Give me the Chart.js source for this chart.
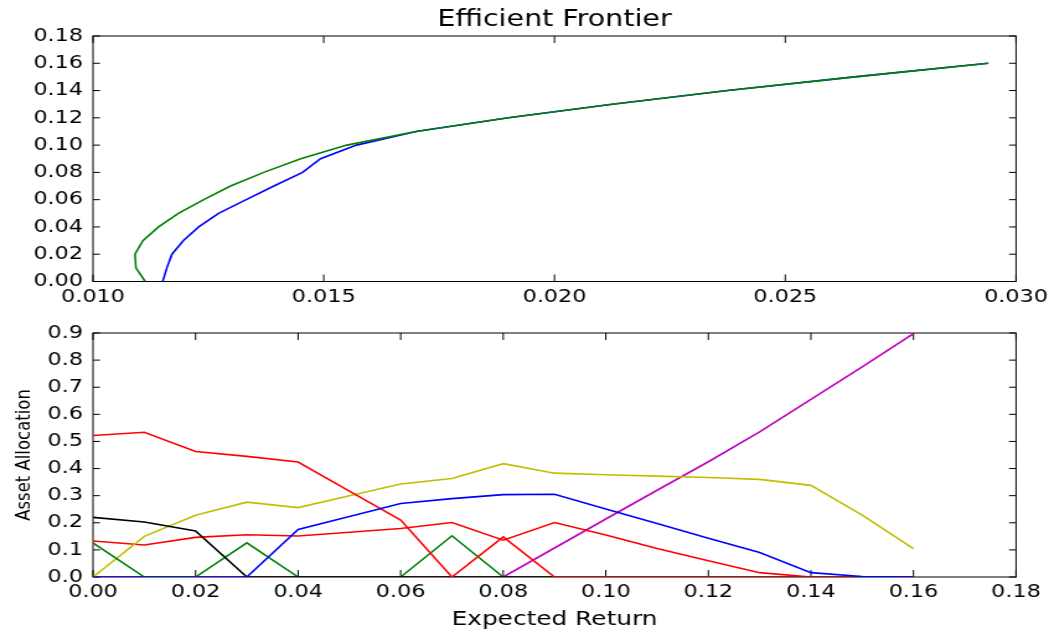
<!DOCTYPE html>
<html>
<head>
<meta charset="utf-8">
<title>Efficient Frontier</title>
<script src="https://cdn.jsdelivr.net/npm/chart.js@4/dist/chart.umd.min.js"></script>
<style>
    html, body { margin: 0; padding: 0; background: #fff; }
    #wrap { position: relative; width: 1049px; height: 634px; overflow: hidden; }
    canvas { position: absolute; left: 0; }
    #frontier { top: 0; }
    #alloc { top: 317px; }
</style>
</head>
<body>
<div id="wrap">
    <!-- drawn narrow and stretched sideways, like the original figure -->
    <canvas id="frontier" width="846" height="317" style="width:1049px;height:317px"></canvas>
    <canvas id="alloc" width="846" height="317" style="width:1049px;height:317px"></canvas>
</div>
<script>
// target returns, shared by both panels
const targetReturns = [0.00, 0.01, 0.02, 0.03, 0.04, 0.05, 0.06, 0.07, 0.08, 0.09, 0.10, 0.11, 0.12, 0.13, 0.14, 0.15, 0.16];

// efficient frontier: risk at each target return
const riskBlue  = [0.01151, 0.01160, 0.01171, 0.01196, 0.01229, 0.01272, 0.01332, 0.01392, 0.01454, 0.01493, 0.01571, 0.01700, 0.01900, 0.02125, 0.02375, 0.02650, 0.02940];
const riskGreen = [0.01113, 0.01093, 0.01091, 0.01108, 0.01142, 0.01185, 0.01240, 0.01298, 0.01370, 0.01450, 0.01550, 0.01700, 0.01900, 0.02125, 0.02375, 0.02650, 0.02940];

// asset weights at each target return
const weightRedA    = [0.522, 0.534, 0.463, 0.445, 0.424, 0.317, 0.210, 0.000, 0.148, 0.000, 0.000, 0.000, 0.000, 0.000, 0.000, 0.000, 0.000];
const weightRedB    = [0.133, 0.118, 0.146, 0.156, 0.151, 0.165, 0.179, 0.201, 0.136, 0.201, 0.155, 0.105, 0.060, 0.016, 0.000, 0.000, 0.000];
const weightBlack   = [0.220, 0.203, 0.170, 0.000, 0.000, 0.000, 0.000, 0.000, 0.000, 0.000, 0.000, 0.000, 0.000, 0.000, 0.000, 0.000, 0.000];
const weightYellow  = [0.000, 0.150, 0.228, 0.276, 0.256, 0.300, 0.343, 0.363, 0.418, 0.383, 0.377, 0.372, 0.367, 0.360, 0.338, 0.228, 0.105];
const weightBlue    = [0.000, 0.000, 0.000, 0.000, 0.175, 0.223, 0.271, 0.289, 0.304, 0.305, 0.251, 0.197, 0.143, 0.090, 0.016, 0.002, 0.000];
const weightGreen   = [0.126, 0.000, 0.000, 0.126, 0.000, 0.000, 0.000, 0.152, 0.000, 0.000, 0.000, 0.000, 0.000, 0.000, 0.000, 0.000, 0.000];
const weightMagenta = [0.000, 0.000, 0.000, 0.000, 0.000, 0.000, 0.000, 0.000, 0.000, 0.107, 0.214, 0.320, 0.425, 0.535, 0.655, 0.775, 0.898];

// tick labels
const frontierXTicks = [0.010, 0.015, 0.020, 0.025, 0.030];
const frontierYTicks = [0.00, 0.02, 0.04, 0.06, 0.08, 0.10, 0.12, 0.14, 0.16, 0.18];
const allocXTicks = [0.00, 0.02, 0.04, 0.06, 0.08, 0.10, 0.12, 0.14, 0.16, 0.18];
const allocYTicks = [0.0, 0.1, 0.2, 0.3, 0.4, 0.5, 0.6, 0.7, 0.8, 0.9];

const FONT = 'DejaVu Sans';
const colors = {
    b: '#0000ff', g: '#008000', r: '#ff0000',
    m: '#bf00bf', y: '#bfbf00', k: '#000000'
};

// box with inward ticks on all four sides (matplotlib classic look)
const frameTicks = {
    id: 'frameTicks',
    beforeDatasetsDraw(chart) {
        const {ctx, chartArea: a, scales} = chart;
        ctx.save();
        ctx.strokeStyle = '#000';
        ctx.lineWidth = 1;
        ctx.strokeRect(a.left, a.top, a.right - a.left, a.bottom - a.top);
        ctx.beginPath();
        scales.x.ticks.forEach(t => {
            const px = scales.x.getPixelForValue(t.value);
            ctx.moveTo(px, a.bottom); ctx.lineTo(px, a.bottom - 7);
            ctx.moveTo(px, a.top); ctx.lineTo(px, a.top + 7);
        });
        scales.y.ticks.forEach(t => {
            const py = scales.y.getPixelForValue(t.value);
            ctx.moveTo(a.left, py); ctx.lineTo(a.left + 5.6, py);
            ctx.moveTo(a.right, py); ctx.lineTo(a.right - 5.6, py);
        });
        ctx.stroke();
        ctx.restore();
    }
};

function fixSize(size, vertical) {
    return scale => {
        if (vertical) scale.width = size; else scale.height = size;
        scale.paddingLeft = scale.paddingRight = scale.paddingTop = scale.paddingBottom = 0;
    };
}

function setTicks(list) {
    return scale => { scale.ticks = list.map(v => ({value: v})); };
}

function valueAxis(min, max, list, decimals, size, vertical, padding) {
    return {
        type: 'linear',
        position: vertical ? 'left' : 'bottom',
        min: min,
        max: max,
        grid: { display: false, drawTicks: false },
        border: { display: false },
        ticks: {
            color: '#000',
            padding: padding,
            autoSkip: false,
            maxRotation: 0,
            font: { family: FONT, size: 18 },
            callback: v => v.toFixed(decimals)
        },
        afterBuildTicks: setTicks(list),
        afterFit: fixSize(size, vertical)
    };
}

function line(xs, ys, color) {
    return {
        data: xs.map((x, i) => ({x: x, y: ys[i]})),
        borderColor: color,
        borderWidth: 1.6,
        pointRadius: 0,
        showLine: true,
        fill: false,
        tension: 0
    };
}

const common = {
    responsive: false,
    animation: false,
    events: [],
    plugins: { legend: { display: false }, tooltip: { enabled: false } }
};

// top: efficient frontier
new Chart(document.getElementById('frontier'), {
    type: 'scatter',
    data: {
        datasets: [
            line(riskGreen, targetReturns, colors.g),
            line(riskBlue, targetReturns, colors.b)
        ]
    },
    options: {
        ...common,
        layout: { padding: { left: 0, right: 26.6, top: 0, bottom: 0 } },
        scales: {
            x: valueAxis(0.010, 0.030, frontierXTicks, 3, 35.5, false, 5),
            y: valueAxis(0, 0.18, frontierYTicks, 2, 75, true, 8),
            titleAxis: {
                type: 'linear',
                axis: 'x',
                position: 'top',
                min: 0,
                max: 1,
                grid: { display: false, drawTicks: false },
                border: { display: false },
                ticks: { display: false },
                title: {
                    display: true,
                    text: 'Efficient Frontier',
                    color: '#000',
                    font: { family: FONT, size: 23 },
                    padding: { top: 6.2, bottom: 0 }
                },
                afterFit: fixSize(36, false)
            }
        }
    },
    plugins: [frameTicks]
});

// bottom: asset allocation along the frontier
const allocY = valueAxis(0, 0.9, allocYTicks, 1, 75, true, 8);
allocY.title = {
    display: true,
    text: 'Asset Allocation',
    color: '#000',
    font: { family: FONT, size: 16.5 },
    padding: { top: 10, bottom: 0 }
};
const allocX = valueAxis(0, 0.18, allocXTicks, 2, 57, false, 5);
allocX.title = {
    display: true,
    text: 'Expected Return',
    color: '#000',
    font: { family: FONT, size: 20 },
    padding: { top: 0, bottom: 2.2 }
};

// first dataset is drawn on top
new Chart(document.getElementById('alloc'), {
    type: 'scatter',
    data: {
        datasets: [
            line(targetReturns, weightBlue, colors.b),
            line(targetReturns, weightRedA, colors.r),
            line(targetReturns, weightBlack, colors.k),
            line(targetReturns, weightGreen, colors.g),
            line(targetReturns, weightYellow, colors.y),
            line(targetReturns, weightRedB, colors.r),
            line(targetReturns, weightMagenta, colors.m)
        ]
    },
    options: {
        ...common,
        layout: { padding: { left: 0, right: 26.6, top: 16, bottom: 0 } },
        scales: { x: allocX, y: allocY }
    },
    plugins: [frameTicks]
});
</script>
</body>
</html>
